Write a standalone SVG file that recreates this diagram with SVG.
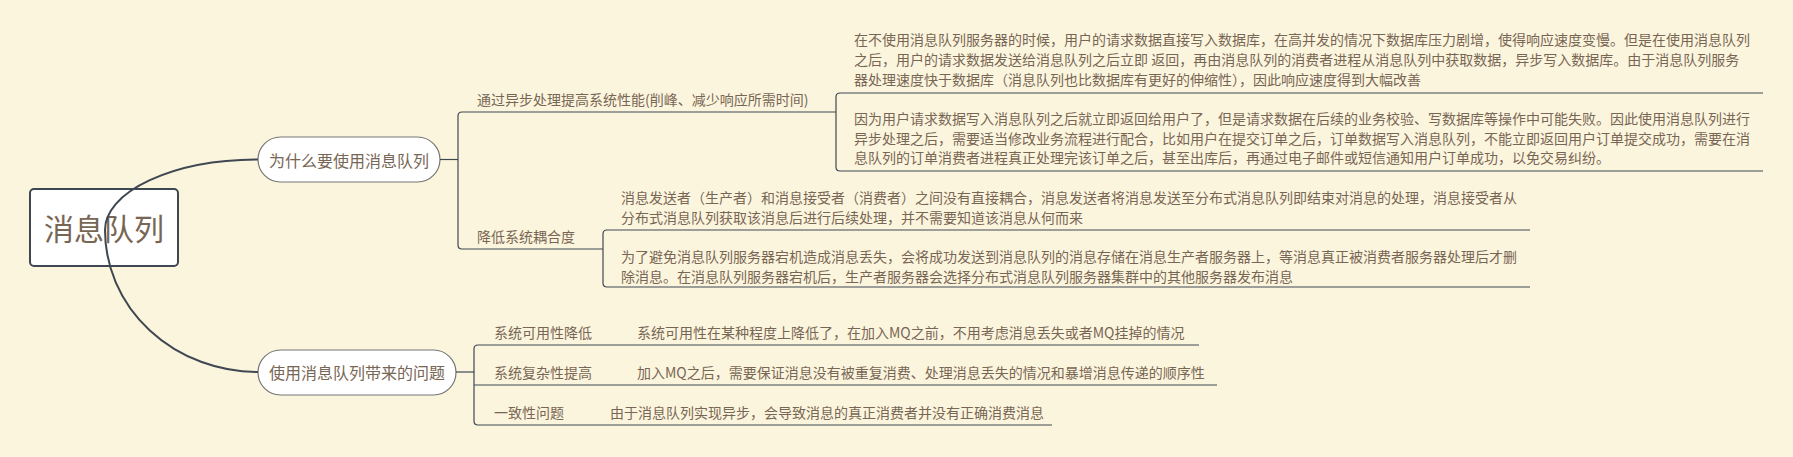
<svg xmlns="http://www.w3.org/2000/svg" width="1793" height="457" viewBox="0 0 1793 457">
<style>
text{font-family:"Noto Sans CJK SC","Microsoft YaHei",sans-serif;fill:#786654;dominant-baseline:central}
.root{font-size:30px;text-anchor:middle}
.main{font-size:16px;text-anchor:middle}
.sub{font-size:14px}
.desc{font-size:14px}
.conn{fill:none;stroke:#3f4852;stroke-width:1.2}
.curve{fill:none;stroke:#3f4852;stroke-width:2}
.pill{fill:#ffffff;stroke:#767676;stroke-width:1.2}
</style>
<rect width="1793" height="457" fill="#fcf5de"/>
<g id="root">
<rect x="30" y="189" width="148" height="77" rx="4" fill="#ffffff" stroke="#3f4852" stroke-width="2"/>
<text class="root" x="104" y="227">消息队列</text>
</g>
<g id="node-why">
<rect class="pill" x="258" y="137" width="182" height="45" rx="22.5"/>
<text class="main" x="349" y="159.5">为什么要使用消息队列</text>
</g>
<g id="node-problems">
<rect class="pill" x="258" y="350" width="198" height="45" rx="22.5"/>
<text class="main" x="357" y="372">使用消息队列带来的问题</text>
</g>
<g id="node-async">
<text class="sub" x="477" y="99">通过异步处理提高系统性能(削峰、减少响应所需时间)</text>
</g>
<g id="desc-async-1">
<text class="desc" x="854" y="38.5">在不使用消息队列服务器的时候，用户的请求数据直接写入数据库，在高并发的情况下数据库压力剧增，使得响应速度变慢。但是在使用消息队列</text>
<text class="desc" x="854" y="58.5">之后，用户的请求数据发送给消息队列之后立即 返回，再由消息队列的消费者进程从消息队列中获取数据，异步写入数据库。由于消息队列服务</text>
<text class="desc" x="854" y="78.5">器处理速度快于数据库（消息队列也比数据库有更好的伸缩性），因此响应速度得到大幅改善</text>
</g>
<g id="desc-async-2">
<text class="desc" x="854" y="117.5">因为用户请求数据写入消息队列之后就立即返回给用户了，但是请求数据在后续的业务校验、写数据库等操作中可能失败。因此使用消息队列进行</text>
<text class="desc" x="854" y="137.5">异步处理之后，需要适当修改业务流程进行配合，比如用户在提交订单之后，订单数据写入消息队列，不能立即返回用户订单提交成功，需要在消</text>
<text class="desc" x="854" y="157">息队列的订单消费者进程真正处理完该订单之后，甚至出库后，再通过电子邮件或短信通知用户订单成功，以免交易纠纷。</text>
</g>
<g id="node-decouple">
<text class="sub" x="477" y="236">降低系统耦合度</text>
</g>
<g id="desc-decouple-1">
<text class="desc" x="621" y="197">消息发送者（生产者）和消息接受者（消费者）之间没有直接耦合，消息发送者将消息发送至分布式消息队列即结束对消息的处理，消息接受者从</text>
<text class="desc" x="621" y="216.5">分布式消息队列获取该消息后进行后续处理，并不需要知道该消息从何而来</text>
</g>
<g id="desc-decouple-2">
<text class="desc" x="621" y="256">为了避免消息队列服务器宕机造成消息丢失，会将成功发送到消息队列的消息存储在消息生产者服务器上，等消息真正被消费者服务器处理后才删</text>
<text class="desc" x="621" y="275.5">除消息。在消息队列服务器宕机后，生产者服务器会选择分布式消息队列服务器集群中的其他服务器发布消息</text>
</g>
<g id="node-availability">
<text class="sub" x="494" y="332">系统可用性降低</text>
</g>
<g id="desc-availability">
<text class="desc" x="637" y="332">系统可用性在某种程度上降低了，在加入MQ之前，不用考虑消息丢失或者MQ挂掉的情况</text>
</g>
<g id="node-complexity">
<text class="sub" x="494" y="372">系统复杂性提高</text>
</g>
<g id="desc-complexity">
<text class="desc" x="637" y="372">加入MQ之后，需要保证消息没有被重复消费、处理消息丢失的情况和暴增消息传递的顺序性</text>
</g>
<g id="node-consistency">
<text class="sub" x="494" y="411.5">一致性问题</text>
</g>
<g id="desc-consistency">
<text class="desc" x="610" y="411.5">由于消息队列实现异步，会导致消息的真正消费者并没有正确消费消息</text>
</g>
<g id="connectors">
<path class="curve" d="M258,159.5 A153,70.5 0 0 0 105,230 A153,142 0 0 0 258,372"/>
<path class="conn" d="M440,159.5 H458"/>
<path class="conn" d="M836,112 H462 Q458,112 458,116 V245 Q458,249 462,249 H603"/>
<path class="conn" d="M1763,93 H840 Q836,93 836,97 V167 Q836,171 840,171 H1763"/>
<path class="conn" d="M1530,230 H607 Q603,230 603,234 V283 Q603,287 607,287 H1530"/>
<path class="conn" d="M456,372 H474"/>
<path class="conn" d="M1199,345 H478 Q474,345 474,349 V421 Q474,425 478,425 H1052"/>
<path class="conn" d="M474,385 H1217"/>
</g>
</svg>
